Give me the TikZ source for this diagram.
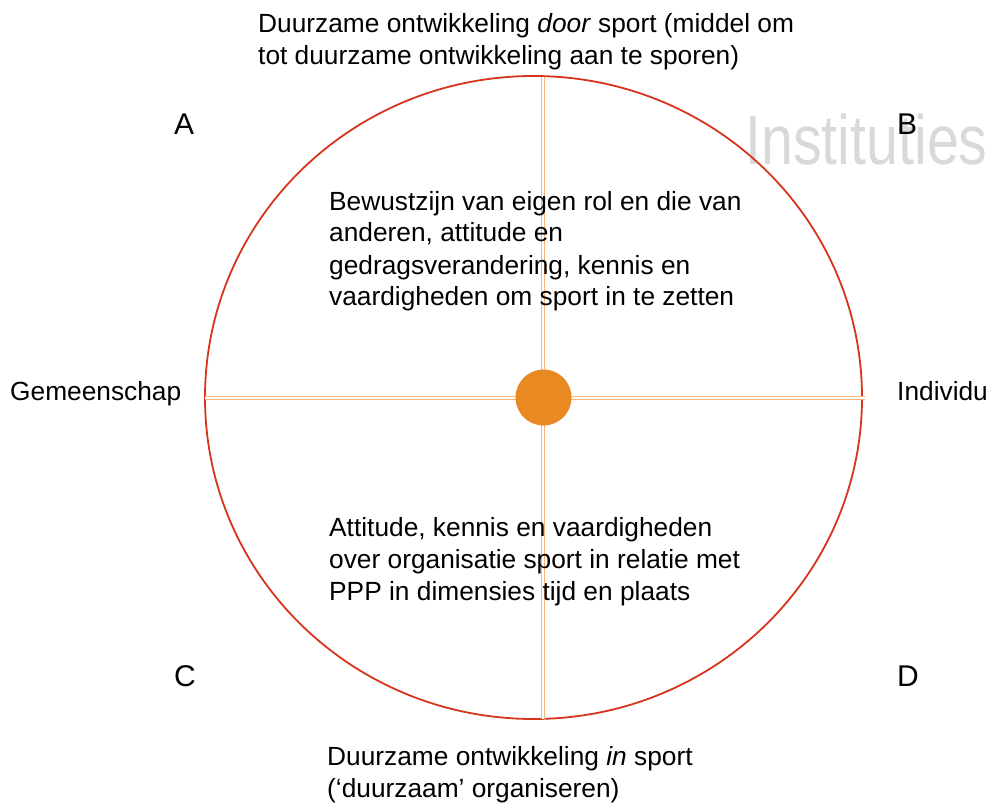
\documentclass[tikz,border=0pt]{standalone}
\usepackage{fontspec}
\setmainfont{Liberation Sans}
\definecolor{ringred}{RGB}{214,52,28}
\definecolor{axisorange}{RGB}{248,180,122}
\definecolor{dotorange}{RGB}{232,137,34}
\definecolor{watergray}{RGB}{217,217,217}
\tikzset{
  txt/.style={anchor=base west, inner sep=0pt, align=left, font=\fontsize{26.3}{32}\selectfont},
  quadrant/.style={anchor=base west, inner sep=0pt, font=\fontsize{30}{36}\selectfont},
  axisline/.style={draw=axisorange, double=white, double distance=1.5pt, line width=1.6pt},
}
\begin{document}
\begin{tikzpicture}[x=1pt,y=-1pt]
    \useasboundingbox (0,0) rectangle (989,805);

    \node[anchor=base west, inner sep=0pt, text=watergray, font=\fontsize{70}{70}\selectfont, xscale=0.82] (inst) at (745,165) {Instituties};

    \draw[ringred, line width=1.8pt] (533.5,397.5) ellipse [x radius=328.5, y radius=321.5];

    \coordinate (top) at (543,77);
    \coordinate (bottom) at (543,719);
    \coordinate (west) at (205,398);
    \coordinate (east) at (865,398);
    \draw[axisline] (top) -- (bottom);
    \draw[axisline] (west) -- (east);
    \node[circle, fill=dotorange, minimum size=56pt, inner sep=0pt] (hub) at (543.5,397.5) {};

%    corners
    \node[quadrant] (a) at (174,135) {A};
    \node[quadrant] (b) at (897,135) {B};
    \node[quadrant] (c) at (174,686) {C};
    \node[quadrant] (d) at (897,686) {D};

%    base anchor = last line
    \node[txt] (door) at (258,65) {Duurzame ontwikkeling \textit{door} sport (middel om\\tot duurzame ontwikkeling aan te sporen)};
    \node[txt] (in) at (327,797) {Duurzame ontwikkeling \textit{in} sport\\(‘duurzaam’ organiseren)};
    \node[txt] (gem) at (10,400) {Gemeenschap};
    \node[txt] (ind) at (897,400) {Individu};

    \node[txt] (upper) at (329,306) {Bewustzijn van eigen rol en die van\\anderen, attitude en\\gedragsverandering, kennis en\\vaardigheden om sport in te zetten};
    \node[txt] (lower) at (329,600) {Attitude, kennis en vaardigheden\\over organisatie sport in relatie met\\PPP in dimensies tijd en plaats};

\end{tikzpicture}
\end{document}
